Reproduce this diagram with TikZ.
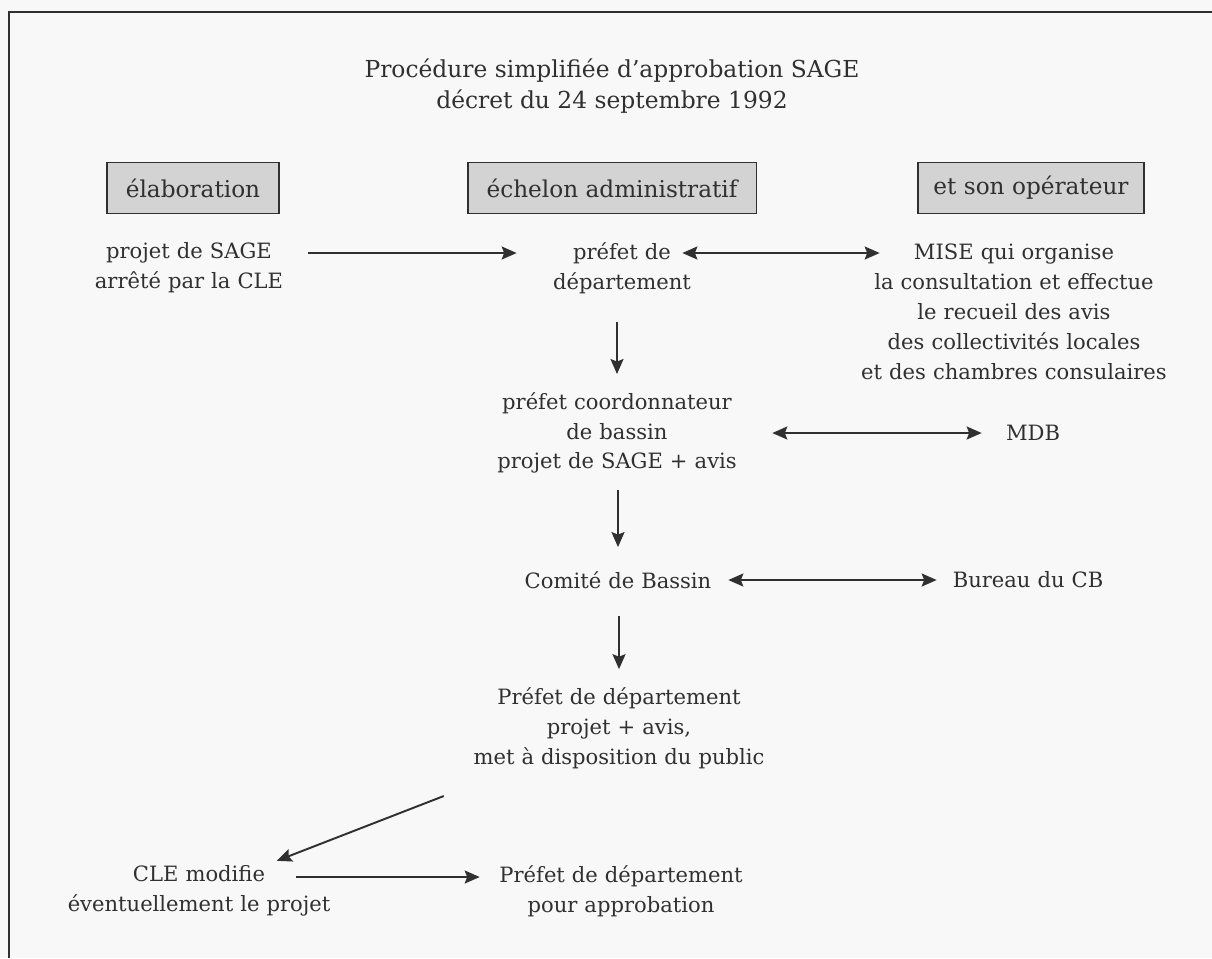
\documentclass[tikz,border=0pt]{standalone}
\usepackage{fontspec}
\setmainfont{DejaVu Serif}
\usetikzlibrary{arrows.meta}
\definecolor{encre}{HTML}{303030}
\definecolor{fond}{HTML}{F8F8F8}
\definecolor{cadre}{HTML}{D3D3D3}

\begin{document}
\begin{tikzpicture}[x=0.02cm,y=-0.02cm,font=\fontsize{12}{17}\selectfont,text=encre]
  \tikzstyle{entete}=[draw=encre,line width=1.1pt,fill=cadre,minimum height=1.02cm,inner sep=0pt,font=\fontsize{13.2}{16}\selectfont]
  \tikzstyle{texte}=[align=center,inner sep=0pt]
  \tikzstyle{fleche}=[draw=encre,line width=1.1pt,-{Stealth[length=0.3cm,width=0.26cm,inset=0.05cm]}]
  \tikzstyle{fleches}=[fleche,{Stealth[length=0.3cm,width=0.26cm,inset=0.05cm]}-{Stealth[length=0.3cm,width=0.26cm,inset=0.05cm]}]
  \path[use as bounding box,fill=fond] (0,0) rectangle (1212,958);
  \draw[encre,line width=1.1pt] (1212,12) -- (9,12) -- (9,958);

  \node[texte,font=\fontsize{13.3}{18}\selectfont] (titre) at (612,86) {Procédure simplifiée d'approbation SAGE\\décret du 24 septembre 1992};
  \node[entete,minimum width=3.44cm] (elab) at (193,188) {élaboration};
  \node[entete,minimum width=5.78cm] (admin) at (612,188) {échelon administratif};
  \node[entete,minimum width=4.52cm] (oper) at (1031,188) {et son opérateur};

  \node[texte,text width=3.9cm] (projet) at (189,268) {projet de SAGE\\arrêté par la CLE};
  \node[texte,text width=2.9cm] (prefdep) at (622,268) {préfet de\\département};
  \node[texte,text width=6.2cm] (mise) at (1014,312) {MISE qui organise\\la consultation et effectue\\le recueil des avis\\des collectivités locales\\et des chambres consulaires};
  \node[texte,text width=4.9cm] (coord) at (617,433) {préfet coordonnateur\\de bassin\\projet de SAGE + avis};
  \node[texte,text width=1.1cm] (mdb) at (1033,433) {MDB};
  \node[texte,text width=3.9cm] (comite) at (618,580) {Comité de Bassin};
  \node[texte,text width=3.1cm] (bureau) at (1028,580) {Bureau du CB};
  \node[texte,text width=6cm] (prefpub) at (619,728) {Préfet de département\\projet + avis,\\met à disposition du public};
  \node[texte,text width=5.4cm] (cle) at (199,891) {CLE modifie\\éventuellement le projet};
  \node[texte,text width=5cm] (approb) at (621,891) {Préfet de département\\pour approbation};

  % ligne du haut
  \draw[fleche,shorten <=0.43cm,shorten >=0.65cm] ([yshift=0.3cm]projet.east) -- ([yshift=0.3cm]prefdep.west);
  \draw[fleches,shorten <=-0.25cm,shorten >=-0.42cm] ([yshift=0.3cm]prefdep.east) -- ([yshift=0.3cm]prefdep.east -| mise.west);
  % colonne du milieu
  \draw[fleche,shorten <=0.56cm,shorten >=0.36cm] (prefdep.south -| coord.north) -- (coord.north);
  \draw[fleches,shorten <=0.65cm,shorten >=0.47cm] (coord.east) -- (mdb.west);
  \draw[fleche,shorten <=0.32cm,shorten >=0.48cm] (coord.south -| comite.north) -- (comite.north);
  \draw[fleches,shorten <=0.25cm,shorten >=0.27cm] (comite.east) -- (bureau.west);
  \draw[fleche,shorten <=0.55cm,shorten >=0.36cm] (comite.south -| prefpub.north) -- (prefpub.north);
  % retour vers la CLE
  \draw[fleche,shorten <=3.76cm,shorten >=1.67cm] (prefpub.center) -- (cle.center);
  \draw[fleche,shorten <=-0.76cm,shorten >=0.32cm] ([yshift=0.28cm]cle.east) -- ([yshift=0.28cm]approb.west);
\end{tikzpicture}
\end{document}
